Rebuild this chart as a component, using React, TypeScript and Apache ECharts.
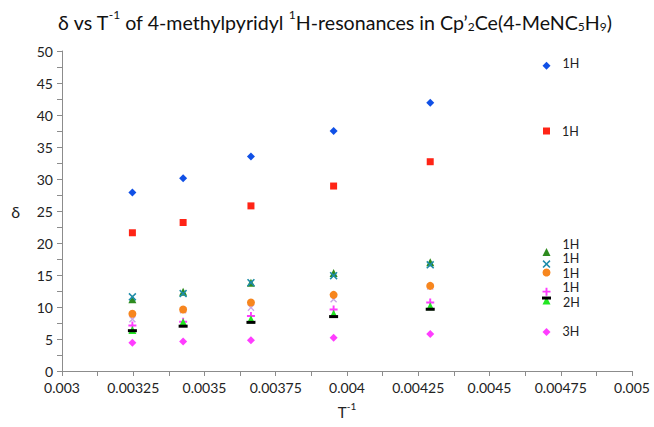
import React, { useEffect, useRef } from "react";
import * as echarts from "echarts";

// Inverse temperatures (T^-1) of the measured points
const xValues = [0.003247, 0.003425, 0.003663, 0.003953, 0.004292];
// x position of the key points on the right
const keyX = 0.0047;

// Shifts (delta) per resonance
const blueDiamond = [27.9, 30.1, 33.5, 37.5, 41.9];
const redSquare = [21.6, 23.2, 25.8, 28.9, 32.7];
const darkGreenTriangle = [11.2, 12.4, 13.8, 15.3, 17.0];
const tealCross = [11.6, 12.1, 13.8, 14.9, 16.6];
const lavenderCross = [8.1, 9.5, 9.9, 11.2, 13.2];
const orangeCircle = [8.95, 9.6, 10.7, 11.9, 13.3];
const pinkPlus = [7.1, 7.7, 8.6, 9.6, 10.7];
const brightGreenTriangle = [6.4, 7.6, 8.1, 8.95, 10.1];
const blackDash = [6.3, 7.0, 7.6, 8.5, 9.65];
const pinkDiamond = [4.4, 4.6, 4.8, 5.2, 5.8];

// Key points (at keyX) and their labels
const keyValues = [47.7, 37.5, 18.6, 16.7, 15.4, 12.4, 11.0, 11.4, 6.1];
const keyLabels = ["1H", "1H", "1H", "1H", "1H", "1H", "", "2H", "3H"];

const xTickValues = [0.003, 0.00325, 0.0035, 0.00375, 0.004, 0.00425, 0.0045, 0.00475, 0.005];
const xTickLabels = ["0.003", "0.00325", "0.0035", "0.00375", "0.004", "0.00425", "0.0045", "0.00475", "0.005"];
const yTickLabels = ["0", "5", "10", "15", "20", "25", "30", "35", "40", "45", "50"];

const CROSS = "path://M0,1.4 L1.4,0 L5,3.6 L8.6,0 L10,1.4 L6.4,5 L10,8.6 L8.6,10 L5,6.4 L1.4,10 L0,8.6 L3.6,5 Z";
const PLUS = "path://M3.8,0 H6.2 V3.8 H10 V6.2 H6.2 V10 H3.8 V6.2 H0 V3.8 H3.8 Z";

const FONT = "Lato";

export default function App() {
  const ref = useRef<HTMLDivElement>(null);
  useEffect(() => {
    if (!ref.current) return;
    const chart = echarts.init(ref.current, null, { renderer: "svg" });

    const defs = [
      { values: blueDiamond, key: 0, symbol: "diamond", size: 8, color: "#1050E6", dy: -2 },
      { values: redSquare, key: 1, symbol: "rect", size: 7, color: "#FF2416", dy: 0 },
      { values: darkGreenTriangle, key: 2, symbol: "triangle", size: 8, color: "#2E8B1E", dy: -7.2 },
      { values: tealCross, key: 3, symbol: CROSS, size: 8, color: "#1E8CAA", dy: -5.3 },
      { values: lavenderCross, key: -1, symbol: CROSS, size: 7, color: "#C9A6E6", dy: 0 },
      { values: orangeCircle, key: 4, symbol: "circle", size: 8, color: "#F7861E", dy: 0.8 },
      { values: pinkPlus, key: 5, symbol: PLUS, size: 8, color: "#FF3CFF", dy: -3.7 },
      { values: brightGreenTriangle, key: 6, symbol: "triangle", size: 8, color: "#22E622", dy: 0 },
      { values: blackDash, key: 7, symbol: "rect", size: [9, 3], color: "#000000", dy: 4.2 },
      { values: pinkDiamond, key: 8, symbol: "diamond", size: 8, color: "#FF3CFF", dy: 0 },
    ];

    const series = defs.map((d, si) => {
      const data: any[] = d.values.map((v, i) => [xValues[i], v]);
      if (d.key >= 0) {
        const lbl = keyLabels[d.key];
        data.push({
          value: [keyX, keyValues[d.key]],
          label: {
            show: lbl !== "",
            formatter: lbl,
            position: "right",
            distance: 12,
            offset: [0, d.dy],
            color: "#222",
            fontFamily: FONT,
            fontSize: 12.5,
            lineHeight: 12,
          },
        });
      }
      return {
        type: "scatter",
        name: "s" + si,
        data,
        symbol: d.symbol,
        symbolSize: d.size,
        itemStyle: { color: d.color, opacity: 1 },
        z: 2 + si,
      };
    });

    const axisGray = "#8C8C8C";

    chart.setOption({
      animation: false,
      backgroundColor: "#ffffff",
      title: {
        text: "{a|δ vs T}{sup|-1}{a| of 4-methylpyridyl }{sup|1}{a|H-resonances in Cp’}{sub|2}{a|Ce(4-MeNC}{sub|5}{a|H}{sub|9}{a|)}",
        left: 53,
        top: 3,
        textStyle: {
          fontWeight: "normal",
          rich: {
            a: { fontFamily: FONT, fontSize: 19.6, fontWeight: "normal", color: "#111", lineHeight: 24, verticalAlign: "bottom" },
            sup: { fontFamily: FONT, fontSize: 12, fontWeight: "normal", color: "#111", lineHeight: 12, verticalAlign: "top" },
            sub: { fontFamily: FONT, fontSize: 12, fontWeight: "normal", color: "#111", lineHeight: 12, verticalAlign: "bottom" },
          },
        },
      },
      grid: { left: 62, right: 22, top: 51, bottom: 56, containLabel: false },
      xAxis: {
        type: "value",
        min: 0.003,
        max: 0.005,
        interval: 0.00025,
        name: "{a|T}{sup|-1}",
        nameLocation: "middle",
        nameGap: 30,
        nameTextStyle: {
          rich: {
            a: { fontFamily: FONT, fontSize: 15, color: "#222", lineHeight: 18, verticalAlign: "bottom" },
            sup: { fontFamily: FONT, fontSize: 10, color: "#222", lineHeight: 10, verticalAlign: "top" },
          },
        },
        axisLine: { show: true, onZero: false, lineStyle: { color: axisGray, width: 1 } },
        axisTick: { show: true, length: 5, lineStyle: { color: axisGray } },
        minorTick: { show: true, splitNumber: 2, length: 5, lineStyle: { color: axisGray } },
        splitLine: { show: false },
        axisLabel: {
          color: "#222",
          fontFamily: FONT,
          fontSize: 14,
          margin: 9,
          formatter: (v: number) => {
            let best = 0;
            xTickValues.forEach((t, i) => {
              if (Math.abs(t - v) < Math.abs(xTickValues[best] - v)) best = i;
            });
            return xTickLabels[best];
          },
        },
      },
      yAxis: {
        type: "value",
        min: 0,
        max: 50,
        interval: 5,
        name: "δ",
        nameLocation: "middle",
        nameRotate: 0,
        nameGap: 42,
        nameTextStyle: { fontFamily: FONT, fontSize: 16, color: "#222" },
        axisLine: { show: true, lineStyle: { color: axisGray, width: 1 } },
        axisTick: { show: true, length: 5, lineStyle: { color: axisGray } },
        minorTick: { show: true, splitNumber: 2, length: 5, lineStyle: { color: axisGray } },
        splitLine: { show: false },
        axisLabel: {
          color: "#222",
          fontFamily: FONT,
          fontSize: 14,
          margin: 9,
          formatter: (v: number) => yTickLabels[Math.round(v / 5)] ?? String(v),
        },
      },
      series,
    });
    return () => chart.dispose();
  }, []);
  return <div ref={ref} style={{ width: 654, height: 427 }} />;
}

// body margin reset
if (typeof document !== "undefined") {
  document.body.style.margin = "0";
}
